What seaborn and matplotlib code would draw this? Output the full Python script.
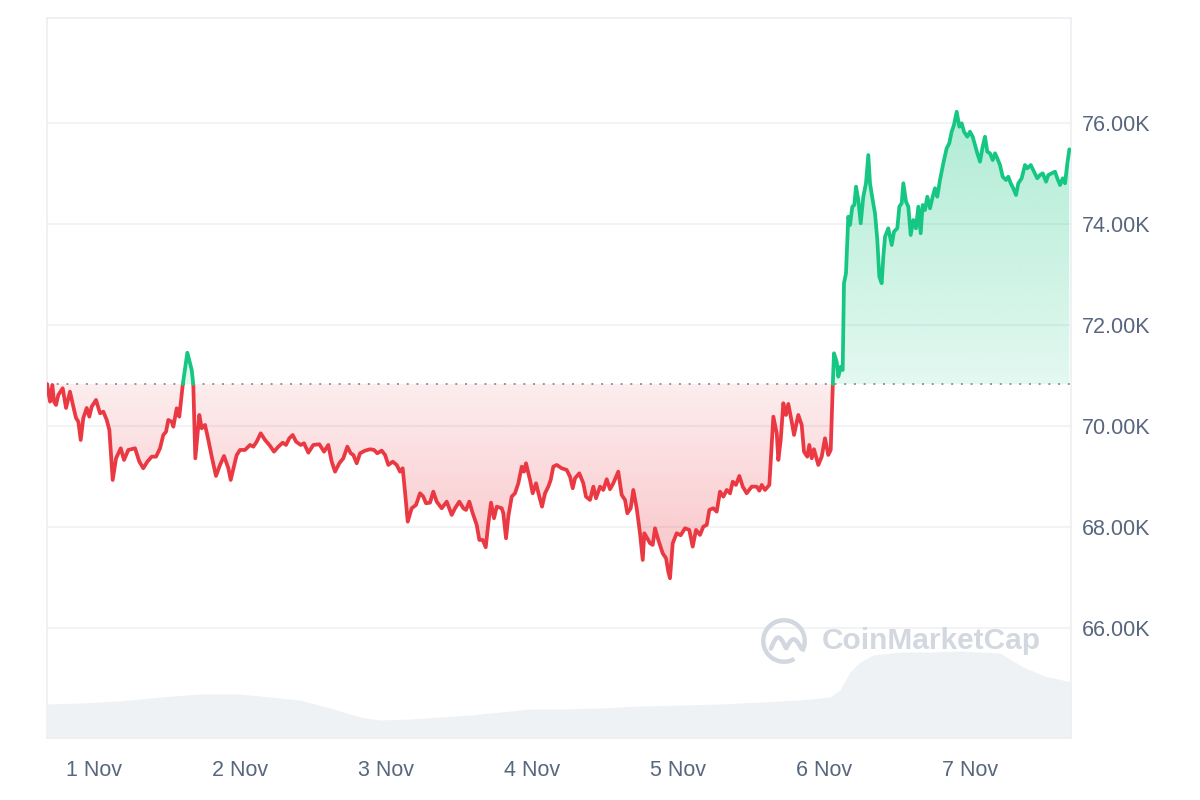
import numpy as np
import pandas as pd
import matplotlib
matplotlib.use("Agg")
import matplotlib.pyplot as plt
from matplotlib.path import Path
from matplotlib.patches import Arc
from matplotlib.colors import to_rgb
import seaborn as sns

sns.set_theme(style="white")
plt.rcParams['font.family'] = ['Liberation Sans', 'DejaVu Sans']

# hours since 1 Nov 00:00, BTC price in thousands of USD
hours = [
    -7.73, -7.23, -6.85, -6.58, -6.25, -5.87, -5.15, -4.60, -3.95, -3.40,
    -2.96, -2.58, -2.19, -1.76, -1.20, -0.77, -0.38, 0.33, 0.99, 1.53,
    2.09, 2.52, 3.07, 3.62, 4.39, 4.93, 5.64, 6.74, 7.45, 8.10,
    8.76, 9.48, 10.19, 10.85, 11.39, 11.84, 12.21, 12.77, 13.04, 13.59,
    14.02, 14.58, 15.34, 16.06, 16.32, 16.65, 17.31, 17.70, 18.25, 18.79,
    19.35, 20.05, 20.71, 21.37, 22.08, 22.47, 23.18, 23.46, 24.00, 24.82,
    25.64, 26.19, 26.74, 27.40, 28.11, 28.82, 29.59, 30.30, 31.02, 31.56,
    32.10, 32.66, 33.21, 33.98, 34.52, 35.23, 36.05, 37.04, 37.81, 38.51,
    39.07, 39.62, 40.32, 40.98, 41.64, 42.20, 42.62, 43.18, 43.73, 44.55,
    45.37, 46.03, 46.57, 47.29, 47.84, 48.38, 49.10, 49.76, 50.30, 50.74,
    51.12, 51.57, 52.22, 52.93, 53.59, 54.13, 54.57, 55.23, 55.77, 56.33,
    57.15, 57.98, 58.80, 59.34, 60.05, 60.71, 61.15, 61.69, 62.25, 62.91,
    63.34, 63.89, 64.39, 64.82, 65.26, 65.75, 66.20, 67.02, 67.28, 67.73,
    68.10, 68.66, 69.20, 69.75, 70.31, 70.68, 71.01, 71.67, 72.11, 72.66,
    73.20, 73.64, 74.14, 74.68, 75.07, 75.50, 76.06, 76.88, 77.70, 78.25,
    78.69, 79.07, 79.77, 80.43, 80.87, 81.53, 82.08, 82.52, 83.18, 83.72,
    84.28, 84.82, 85.36, 86.18, 86.74, 87.29, 87.67, 88.22, 88.65, 89.21,
    89.75, 90.20, 90.46, 90.95, 91.40, 91.84, 92.22, 92.76, 93.48, 94.03,
    94.40, 94.68, 95.13, 95.78, 96.44, 97.15, 97.85, 98.41, 98.96, 99.61,
    100.16, 100.72, 101.15, 101.80, 102.36, 102.90, 103.45, 104.01, 104.55, 104.99,
    105.53, 106.08, 106.64, 107.29, 108.11, 108.94, 109.37, 109.76, 110.30, 111.01,
    111.67, 112.23, 112.49, 112.88, 113.31, 113.75, 114.13, 114.69, 115.07, 115.77,
    116.33, 116.71, 117.25, 117.58, 117.98, 118.35, 119.06, 119.62, 120.16, 120.70,
    121.10, 121.43, 121.64, 122.08, 122.35, 122.74, 123.07, 123.28, 123.61, 123.99,
    124.27, 124.65, 124.98, 125.26, 125.64, 126.03, 126.46, 126.90, 127.28, 127.56,
    128.00, 128.38, 128.76, 129.09, 129.48, 129.75, 130.03, 130.57, 131.13, 131.50,
    132.05, 132.38, 132.77, 133.04, 133.48, 133.86, 134.25, 134.68, 135.12, 135.50,
    135.89, 136.22, 136.60, 136.98, 137.42, 137.86, 138.24, 138.62, 139.06, 139.61,
    140.16, 140.59, 140.98, 141.36, 141.81, 142.24, 142.63, 143.01, 143.55, 144.00,
    144.44, 144.82, 145.20, 145.64, 146.08, 146.46, 146.84, 147.28, 147.73, 148.11,
    148.48, 148.93, 149.37, 149.91, 150.29, 150.69, 151.11, 151.56, 151.94, 152.49,
    153.04, 153.42, 153.98, 154.52, 155.06, 155.51, 155.95, 156.50, 156.87, 157.43,
    157.97, 158.35, 158.80, 159.24, 159.62, 160.00, 160.33,
]
price = [
    70.832, 70.481, 70.812, 70.481, 70.416, 70.614, 70.747, 70.356, 70.679, 70.382,
    70.158, 70.085, 69.723, 70.158, 70.356, 70.184, 70.382, 70.515, 70.251, 70.283,
    70.119, 69.921, 68.931, 69.360, 69.558, 69.327, 69.525, 69.558, 69.293, 69.162,
    69.293, 69.392, 69.392, 69.558, 69.822, 69.887, 70.119, 70.085, 69.986, 70.350,
    70.184, 70.812, 71.451, 71.109, 70.812, 69.360, 70.218, 69.954, 70.020, 69.723,
    69.392, 69.010, 69.228, 69.406, 69.162, 68.931, 69.293, 69.426, 69.525, 69.525,
    69.624, 69.590, 69.689, 69.855, 69.723, 69.624, 69.491, 69.590, 69.669, 69.624,
    69.756, 69.822, 69.689, 69.624, 69.657, 69.471, 69.624, 69.638, 69.491, 69.624,
    69.293, 69.095, 69.261, 69.360, 69.590, 69.459, 69.426, 69.261, 69.459, 69.511,
    69.539, 69.525, 69.459, 69.511, 69.426, 69.228, 69.293, 69.228, 69.095, 69.162,
    68.699, 68.105, 68.370, 68.436, 68.667, 68.600, 68.469, 68.481, 68.699, 68.501,
    68.370, 68.501, 68.238, 68.370, 68.501, 68.370, 68.337, 68.501, 68.271, 68.040,
    67.743, 67.743, 67.598, 68.073, 68.481, 68.172, 68.402, 68.370, 68.271, 67.776,
    68.204, 68.600, 68.667, 68.865, 69.194, 69.095, 69.261, 68.931, 68.667, 68.865,
    68.600, 68.402, 68.667, 68.798, 68.931, 69.194, 69.228, 69.162, 69.129, 68.996,
    68.766, 68.964, 69.063, 68.865, 68.600, 68.535, 68.798, 68.568, 68.798, 68.733,
    68.945, 68.747, 68.865, 69.095, 68.634, 68.535, 68.271, 68.370, 68.733, 68.370,
    67.875, 67.347, 67.875, 67.776, 67.677, 67.644, 67.974, 67.743, 67.479, 67.380,
    67.115, 66.984, 67.677, 67.875, 67.836, 67.974, 67.941, 67.610, 67.941, 67.842,
    68.006, 68.040, 68.337, 68.370, 68.303, 68.699, 68.600, 68.733, 68.667, 68.897,
    68.832, 69.010, 68.798, 68.667, 68.798, 68.798, 68.719, 68.832, 68.733, 68.832,
    70.184, 69.855, 69.327, 69.723, 70.450, 70.218, 70.436, 70.085, 69.822, 70.218,
    70.020, 69.491, 69.392, 69.624, 69.360, 69.539, 69.228, 69.392, 69.756, 69.426,
    69.525, 70.778, 71.440, 71.273, 70.976, 71.174, 71.109, 72.826, 73.024, 74.145,
    73.980, 74.343, 74.376, 74.739, 74.475, 74.014, 74.541, 74.806, 75.366, 74.806,
    74.475, 74.212, 73.683, 72.956, 72.826, 73.352, 73.749, 73.915, 73.584, 73.848,
    73.915, 74.343, 74.410, 74.806, 74.442, 74.343, 73.782, 74.079, 73.915, 74.343,
    73.816, 74.376, 74.277, 74.541, 74.311, 74.541, 74.707, 74.541, 74.871, 75.202,
    75.499, 75.598, 75.828, 75.960, 76.224, 75.927, 75.994, 75.828, 75.729, 75.828,
    75.729, 75.564, 75.400, 75.234, 75.531, 75.729, 75.432, 75.400, 75.267, 75.400,
    75.301, 75.168, 74.937, 74.871, 74.937, 74.806, 74.707, 74.574, 74.806, 74.905,
    75.168, 75.103, 75.168, 75.036, 74.905, 74.970, 75.004, 74.838, 74.970, 75.004,
    75.036, 74.905, 74.772, 74.905, 74.806, 75.202, 75.479,
]

# trading volume (bottom band), hours and billions USD
vol_hours = [-7.73, -2.30, 4.27, 10.85, 17.42, 24.00, 28.93, 33.86, 38.79, 43.73,
             47.01, 51.94, 56.88, 61.81, 66.74, 71.67, 76.60, 83.18, 89.75, 96.33,
             102.90, 109.48, 116.05, 120.98, 122.63, 124.27, 125.92, 128.05, 132.49, 137.42,
             142.35, 148.93, 152.71, 156.32, 160.60]
volume = [34, 35, 37, 41, 44, 44, 41, 38, 30, 21,
          18, 19, 21, 23, 26, 29, 29, 30, 32, 33,
          34, 36, 38, 41, 48, 66, 76, 83, 86, 86,
          87, 85, 71, 62, 56]

day_ticks = [0, 24, 48, 72, 96, 120, 144]
day_labels = ['1 Nov', '2 Nov', '3 Nov', '4 Nov', '5 Nov', '6 Nov', '7 Nov']
price_ticks = [66, 68, 70, 72, 74, 76]

RED = '#ea3943'
GREEN = '#16c784'
TXT = '#58667e'

h = np.array(hours)
p = np.array(price)
assert len(h) == len(p)
base = p[0]

# split the line into above/below-baseline pieces
rows = []
seg = 0
cur = 'up' if p[0] > base else 'down'
rows.append((h[0], p[0], seg, cur))
for i in range(1, len(p)):
    s = 'up' if p[i] > base else 'down'
    if s != cur:
        t = (base - p[i-1]) / (p[i] - p[i-1])
        xc = h[i-1] + t * (h[i] - h[i-1])
        rows.append((xc, base, seg, cur))
        seg += 1
        cur = s
        rows.append((xc, base, seg, cur))
    rows.append((h[i], p[i], seg, cur))
df = pd.DataFrame(rows, columns=['h', 'p', 'seg', 'side'])

x0, x1 = -7.73, 160.60
y0, y1 = 63.82, 78.08
pos = [47/1200, 62/800, 1024/1200, 720/800]

fig = plt.figure(figsize=(12, 8), dpi=100)
ax_vol = fig.add_axes(pos, zorder=0)
ax = fig.add_axes(pos, zorder=1)
ax.patch.set_alpha(0)

# volume band
ax_vol.fill_between(vol_hours, volume, 0, color='#eff2f5', lw=0)
ax_vol.set_xlim(x0, x1)
ax_vol.set_ylim(0, 720)
ax_vol.axis('off')


def gradient_fill(xs, ys, below, color, a_near, a_far):
    mask = ys <= base if below else ys >= base
    poly = ax.fill_between(xs, ys, base, where=mask, interpolate=True,
                           facecolor='none', edgecolor='none')
    clip = Path.make_compound_path(*poly.get_paths())
    n = 256
    rgba = np.zeros((n, 1, 4))
    rgba[..., :3] = to_rgb(color)
    if below:
        rgba[:, 0, 3] = np.linspace(a_far, a_near, n)
        lo, hi = ys.min(), base
    else:
        rgba[:, 0, 3] = np.linspace(a_near, a_far, n)
        lo, hi = base, ys.max()
    im = ax.imshow(rgba, aspect='auto', extent=[xs.min(), xs.max(), lo, hi],
                   origin='lower', zorder=1, interpolation='bilinear')
    im.set_clip_path(clip, transform=ax.transData)


xs = df['h'].to_numpy()
ys = df['p'].to_numpy()
gradient_fill(xs, ys, True, RED, 0.09, 0.30)
gradient_fill(xs, ys, False, GREEN, 0.12, 0.34)

ax.axhline(base, color='#8b95a5', lw=1.4, ls=(0, (1, 4)), zorder=2)

sns.lineplot(data=df, x='h', y='p', hue='side', units='seg', estimator=None,
             sort=False, palette={'up': GREEN, 'down': RED}, linewidth=2.7,
             legend=False, ax=ax, zorder=3)

ax.set_xlim(x0, x1)
ax.set_ylim(y0, y1)
ax.set_aspect('auto')
ax.set_xlabel('')
ax.set_ylabel('')
ax.set_xticks(day_ticks)
ax.set_xticklabels(day_labels)
ax.yaxis.tick_right()
ax.set_yticks(price_ticks)
ax.set_yticklabels([f'{v:.2f}K' for v in price_ticks])
ax.tick_params(axis='x', length=0, pad=16, labelsize=15.5, labelcolor=TXT)
ax.tick_params(axis='y', length=0, pad=8, labelsize=15.5, labelcolor=TXT)
ax.grid(axis='y', color='#eef0f3', lw=1.1)
ax.grid(axis='x', visible=False)
ax.set_axisbelow(True)
for sp in ax.spines.values():
    sp.set_color('#eceef1')
    sp.set_linewidth(1.1)

# watermark
fig.text(822/1200, 1 - 641/800, 'CoinMarketCap', fontsize=21.5, fontweight='bold',
         color='#d3d8e0', ha='left', va='center', zorder=5)
logo = fig.add_axes([760/1200, 1 - 665/800, 48/1200, 48/800], zorder=5)
logo.set_xlim(-1.1, 1.1)
logo.set_ylim(-1.1, 1.1)
logo.axis('off')
logo.add_patch(Arc((0, 0), 1.9, 1.9, theta1=-30, theta2=300, color='#d3d8e0', lw=3.2))
tt = np.linspace(0, 1, 60)
wx = -0.6 + 1.4 * tt
wy = -0.35 + 0.55 * np.abs(np.sin(np.pi * 2 * tt)) * (1 - 0.3 * tt)
logo.plot(wx, wy, color='#d3d8e0', lw=3.2, solid_capstyle='round')

fig.savefig('out.png', dpi=100)
